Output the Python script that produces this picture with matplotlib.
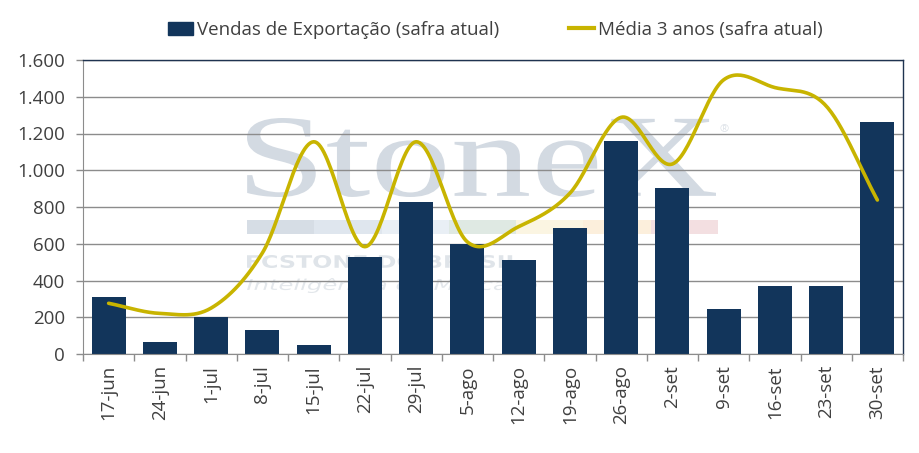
import numpy as np
import matplotlib
matplotlib.use("Agg")
import matplotlib.pyplot as plt
from matplotlib.patches import Rectangle, PathPatch
from matplotlib.lines import Line2D
from matplotlib.textpath import TextPath
from matplotlib.font_manager import FontProperties
from matplotlib.transforms import Affine2D
from matplotlib.ticker import FuncFormatter, MultipleLocator

semanas = ["17-jun", "24-jun", "1-jul", "8-jul", "15-jul", "22-jul", "29-jul", "5-ago",
           "12-ago", "19-ago", "26-ago", "2-set", "9-set", "16-set", "23-set", "30-set"]
vendas = [310, 65, 200, 130, 49, 528, 827, 600, 512, 686, 1159, 902, 243, 370, 370, 1261]
media_3anos = [276, 221, 250, 550, 1155, 584, 1155, 610, 693, 875, 1288, 1034, 1492, 1450, 1350, 838]

cor_barra = "#12355b"
cor_linha = "#c8b400"
cor_texto = "#404040"

plt.rcParams['font.family'] = ['Open Sans', 'DejaVu Sans']

W, H = 919, 453


def suavizar(x, y, n=30):
    # curva suave tipo Excel (Catmull-Rom) passando pelos pontos
    x = np.asarray(x, float)
    y = np.asarray(y, float)
    px = np.concatenate([[2 * x[0] - x[1]], x, [2 * x[-1] - x[-2]]])
    py = np.concatenate([[2 * y[0] - y[1]], y, [2 * y[-1] - y[-2]]])
    xs, ys = [], []
    t = np.linspace(0, 1, n, endpoint=False)
    for i in range(1, len(px) - 2):
        for arr, p in ((ys, py), (xs, px)):
            a0, a1, a2, a3 = p[i - 1], p[i], p[i + 1], p[i + 2]
            arr.extend(0.5 * ((2 * a1) + (-a0 + a2) * t + (2 * a0 - 5 * a1 + 4 * a2 - a3) * t ** 2
                              + (-a0 + 3 * a1 - 3 * a2 + a3) * t ** 3))
    xs.append(x[-1])
    ys.append(y[-1])
    return np.array(xs), np.array(ys)


def marca(ax, texto, caixa, cor, **fonte):
    # texto da marca d'agua esticado para caber na caixa (pixels da imagem)
    x0, y0, x1, y1 = caixa
    tp = TextPath((0, 0), texto, size=1, prop=FontProperties(**fonte))
    ext = tp.get_extents()
    sx = (x1 - x0) / W / ext.width
    sy = (y1 - y0) / H / ext.height
    tr = Affine2D().translate(-ext.x0, -ext.y0).scale(sx, sy).translate(x0 / W, 1 - y1 / H)
    ax.add_patch(PathPatch(tp, transform=tr + ax.figure.transFigure, color=cor, lw=0,
                           zorder=0.1, clip_on=False))


fig = plt.figure(figsize=(W / 100, H / 100), dpi=100)
ax = fig.add_axes([83 / W, 1 - 354 / H, (903 - 83) / W, (354 - 60) / H])

x = np.arange(len(semanas))

# marca d'agua StoneX
marca(ax, "StoneX", (247, 118, 716, 197), "#d3dae2", family="Liberation Serif")
ax.text(719 / W, 1 - 132 / H, "®", transform=fig.transFigure, fontsize=8, color="#dde2e8",
        zorder=0.1)
faixa = ["#d6dde5", "#dfe6ee", "#e9eff5", "#dfe9e3", "#fbf5e2", "#fcefdc", "#f3dfe1"]
for i, c in enumerate(faixa):
    x0 = 247 + i * (718 - 247) / 7
    ax.add_patch(Rectangle((x0 / W, 1 - 234 / H), (718 - 247) / 7 / W, 13.5 / H,
                           transform=fig.transFigure, color=c, lw=0, zorder=0.1))
marca(ax, "FCSTONE DO BRASIL", (247, 255, 520, 268), "#dfe4e9", family="DejaVu Sans",
      weight="bold")
marca(ax, "Inteligência de Mercado", (247, 278, 537, 293), "#e3e7eb", family="DejaVu Sans",
      style="italic")

ax.bar(x, vendas, width=0.66, color=cor_barra, zorder=2)
sx, sy = suavizar(x, media_3anos)
ax.plot(sx, sy, color=cor_linha, lw=2.6, solid_capstyle="round", zorder=3)

ax.set_xlim(-0.5, len(semanas) - 0.5)
ax.set_ylim(0, 1600)
ax.yaxis.set_major_locator(MultipleLocator(200))
ax.yaxis.set_major_formatter(FuncFormatter(lambda v, p: f"{int(v):,}".replace(",", ".")))
ax.grid(axis="y", color="#8c8c8c", lw=1.0)
ax.set_axisbelow(True)

ax.set_xticks(x)
ax.set_xticklabels(semanas, rotation=90, fontsize=13.5, color=cor_texto)
ax.tick_params(axis="x", length=0, pad=8)
ax.set_xticks(np.arange(-0.5, len(semanas)), minor=True)
ax.tick_params(axis="x", which="minor", length=5, color="#8c8c8c", width=1)
ax.tick_params(axis="y", labelsize=13.5, labelcolor=cor_texto, length=5, color="#8c8c8c",
               width=1, pad=8)

for s in ("left", "bottom"):
    ax.spines[s].set_color("#8c8c8c")
for s in ("top", "right"):
    ax.spines[s].set_color("#1f3350")
    ax.spines[s].set_linewidth(1.0)

handles = [Rectangle((0, 0), 1, 1, color=cor_barra), Line2D([], [], color=cor_linha, lw=3)]
fig.legend(handles, ["Vendas de Exportação (safra atual)", "Média 3 anos (safra atual)"],
           loc="center", bbox_to_anchor=(0.539, 0.934), ncol=2, frameon=False, fontsize=13.5,
           labelcolor=cor_texto, handlelength=1.35, handletextpad=0.22, columnspacing=3.7)

fig.savefig("out.png", dpi=100)
